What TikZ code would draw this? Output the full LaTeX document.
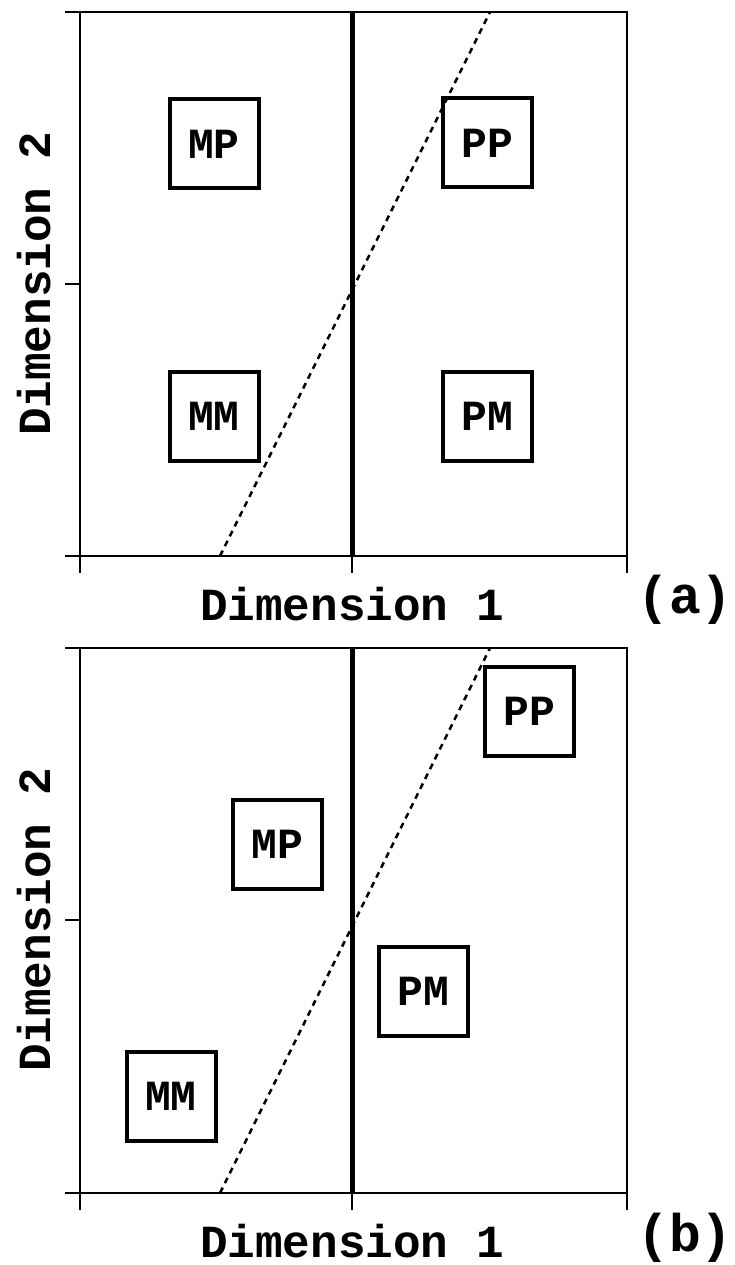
\documentclass[tikz,border=0pt]{standalone}
\usepackage{fontspec}
\setmonofont{Liberation Mono}
\usepackage{tikz}
\usetikzlibrary{positioning}
\tikzstyle{catbox} = [draw, line width=4pt, minimum width=89pt, minimum height=89pt, inner sep=0pt, font=\ttfamily\bfseries\fontsize{43}{43}\selectfont]
\tikzstyle{frame} = [line width=2pt]
\tikzstyle{divider} = [line width=5pt]
\tikzstyle{bound} = [line width=2.5pt, dash pattern=on 6pt off 5pt]
\tikzstyle{axlabel} = [inner sep=0pt, font=\ttfamily\bfseries\fontsize{46}{46}\selectfont]
\tikzstyle{panlabel} = [inner sep=0pt, font=\ttfamily\bfseries\fontsize{53}{53}\selectfont]
\tikzstyle{coord} = [coordinate]
\begin{document}
\begin{tikzpicture}[x=1pt, y=-1pt]
    \useasboundingbox (0,0) rectangle (734,1265);

    % panel (a)
    \begin{scope}
    \node [coord] (nwA) at (80,12) {};
    \node [coord] (seA) at (627,556) {};
    \draw [frame] (nwA) rectangle (seA);
    \foreach \y in {12,284,556} \draw [frame] (65,\y) -- (80,\y);
    \foreach \x in {80,352,627} \draw [frame] (\x,556) -- (\x,573);
    \node [coord] (divtopA) at (352,12) {};
    \node [coord] (divbotA) at (352,556) {};
    \draw [divider] (divtopA) -- (divbotA);
    \node [coord] (bndlowA) at (220,556) {};
    \node [coord] (bndupA) at (490,12) {};
    \draw [bound] (bndlowA) -- (bndupA);

    \node [catbox] (mpA) at (214,144) {MP};
    \node [catbox] (ppA) at (487,143) {PP};
    \node [catbox] (mmA) at (214,416) {MM};
    \node [catbox] (pmA) at (487,416) {PM};

    \node [axlabel, rotate=90] (dimtwoA) at (34,284) {Dimension 2};
    \node [axlabel] (dimoneA) at (352,604) {Dimension 1};
    \node [panlabel] (tagA) at (685,600) {(a)};
    \end{scope}

    % panel (b)
    \begin{scope}[shift={(0,636)}]
    \node [coord] (nwB) at (80,12) {};
    \node [coord] (seB) at (627,557) {};
    \draw [frame] (nwB) rectangle (seB);
    \foreach \y in {12,284,557} \draw [frame] (65,\y) -- (80,\y);
    \foreach \x in {80,352,627} \draw [frame] (\x,557) -- (\x,574);
    \node [coord] (divtopB) at (352,12) {};
    \node [coord] (divbotB) at (352,557) {};
    \draw [divider] (divtopB) -- (divbotB);
    \node [coord] (bndlowB) at (220,557) {};
    \node [coord] (bndupB) at (490,12) {};
    \draw [bound] (bndlowB) -- (bndupB);

    \node [catbox] (ppB) at (529,75) {PP};
    \node [catbox] (mpB) at (277,208) {MP};
    \node [catbox] (pmB) at (423,355) {PM};
    \node [catbox] (mmB) at (171,460) {MM};

    \node [axlabel, rotate=90] (dimtwoB) at (34,284) {Dimension 2};
    \node [axlabel] (dimoneB) at (352,605) {Dimension 1};
    \node [panlabel] (tagB) at (685,602) {(b)};
    \end{scope}
\end{tikzpicture}
\end{document}
